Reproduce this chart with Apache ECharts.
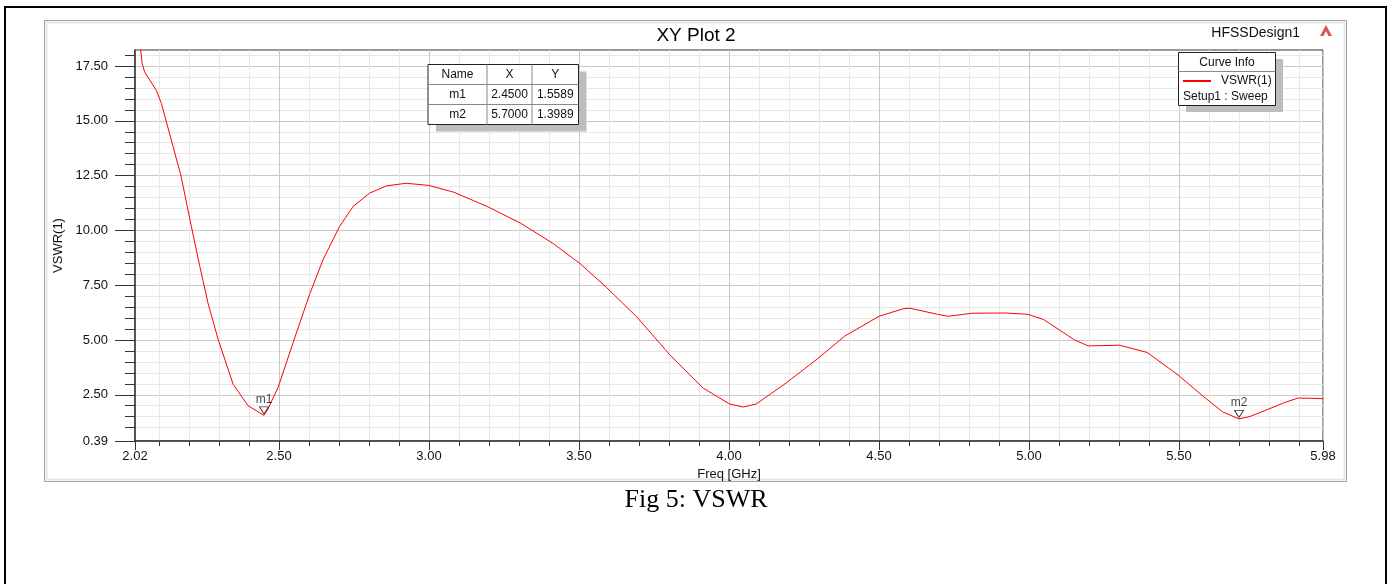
<!DOCTYPE html>
<html>
<head>
<meta charset="utf-8">
<title>XY Plot 2</title>
<script src="https://cdn.jsdelivr.net/npm/echarts@6.0.0/dist/echarts.min.js"></script>
<style>
  html, body { margin: 0; padding: 0; background: #fff; }
  #chart { width: 1392px; height: 584px; }
</style>
</head>
<body>
<div id="chart"></div>
<script>
// VSWR(1) sweep, values
const freqGHz = [2.02, 2.044, 2.052, 2.091, 2.108, 2.147, 2.174, 2.202, 2.236, 2.263, 2.297, 2.347, 2.397, 2.45, 2.463, 2.497,
  2.547, 2.602, 2.647, 2.702, 2.747, 2.802, 2.858, 2.924, 3.0, 3.083, 3.194, 3.305, 3.415, 3.504, 3.592, 3.692, 3.803,
  3.914, 4.002, 4.047, 4.091, 4.19, 4.294, 4.386, 4.5, 4.58, 4.603, 4.695, 4.73, 4.81, 4.922, 4.997, 5.049, 5.152,
  5.197, 5.302, 5.394, 5.497, 5.577, 5.645, 5.70, 5.737, 5.794, 5.851, 5.897, 5.94, 5.98];
const vswr = [20.4, 17.61, 17.23, 16.39, 15.79, 13.82, 12.45, 10.56, 8.36, 6.70, 5.03, 2.98, 2.00, 1.5589, 1.85, 2.83,
  4.88, 7.08, 8.67, 10.18, 11.09, 11.70, 12.03, 12.15, 12.05, 11.74, 11.09, 10.33, 9.39, 8.48, 7.39, 6.06, 4.32,
  2.80, 2.08, 1.94, 2.08, 3.03, 4.13, 5.18, 6.08, 6.42, 6.45, 6.17, 6.08, 6.22, 6.23, 6.17, 5.93, 5.00,
  4.73, 4.76, 4.43, 3.40, 2.47, 1.72, 1.3989, 1.51, 1.82, 2.14, 2.35, 2.34, 2.32];

const markerNames = ["m1", "m2"];
const markerX = [2.45, 5.70];
const markerY = [1.5589, 1.3989];

const xMajorTicks = [2.02, 2.5, 3.0, 3.5, 4.0, 4.5, 5.0, 5.5, 5.98];
const xMinorTicks = [2.1, 2.2, 2.3, 2.4, 2.6, 2.7, 2.8, 2.9, 3.1, 3.2, 3.3, 3.4, 3.6, 3.7, 3.8, 3.9,
  4.1, 4.2, 4.3, 4.4, 4.6, 4.7, 4.8, 4.9, 5.1, 5.2, 5.3, 5.4, 5.6, 5.7, 5.8, 5.9];
const yMajorTicks = [0.39, 2.5, 5.0, 7.5, 10.0, 12.5, 15.0, 17.5];
const yMinorTicks = [1.0, 1.5, 2.0, 3.0, 3.5, 4.0, 4.5, 5.5, 6.0, 6.5, 7.0, 8.0, 8.5, 9.0, 9.5,
  10.5, 11.0, 11.5, 12.0, 13.0, 13.5, 14.0, 14.5, 15.5, 16.0, 16.5, 17.0, 18.0];

const FONT = "Liberation Sans, Arial, sans-serif";
const TOP = 100; // boxes drawn over the grid

const chart = echarts.init(document.getElementById("chart"));

// marker table (Name / X / Y)
const colX = [428, 487, 532, 578.5];
const rowY = [64.5, 84.5, 104.5, 124.5];
const tableRows = [["Name", "X", "Y"]].concat(
  markerNames.map((n, i) => [n, markerX[i].toFixed(4), markerY[i].toFixed(4)])
);
const tableEls = [
  { type: "rect", z: TOP, shape: { x: colX[0] + 8, y: rowY[0] + 7, width: colX[3] - colX[0], height: rowY[3] - rowY[0] },
    style: { fill: "#bdbdbd" } },
  { type: "rect", z: TOP + 1, shape: { x: colX[0], y: rowY[0], width: colX[3] - colX[0], height: rowY[3] - rowY[0] },
    style: { fill: "#fff", stroke: "#222", lineWidth: 1 } }
];
[1, 2].forEach(c => tableEls.push({ type: "line", z: TOP + 2,
  shape: { x1: colX[c], y1: rowY[0], x2: colX[c], y2: rowY[3] }, style: { stroke: "#888", lineWidth: 1 } }));
[1, 2].forEach(r => tableEls.push({ type: "line", z: TOP + 2,
  shape: { x1: colX[0], y1: rowY[r], x2: colX[3], y2: rowY[r] }, style: { stroke: "#888", lineWidth: 1 } }));
tableRows.forEach((row, r) => row.forEach((t, c) => tableEls.push({ type: "text", z: TOP + 3,
  style: { text: t, x: (colX[c] + colX[c + 1]) / 2, y: (rowY[r] + rowY[r + 1]) / 2, align: "center",
    verticalAlign: "middle", font: "12px " + FONT, fill: "#111" } })));

const option = {
  animation: false,
  backgroundColor: "#fff",
  title: {
    text: "XY Plot 2", left: "center", top: 21,
    textStyle: { fontFamily: FONT, fontSize: 19, fontWeight: "normal", color: "#000" }
  },
  legend: {
    data: ["VSWR(1)"], left: 1183, top: 75, padding: 0, itemWidth: 28, itemHeight: 2, icon: "rect", z: TOP + 10,
    textStyle: { fontFamily: FONT, fontSize: 12, color: "#111", padding: [0, 0, 0, 5] }
  },
  grid: { left: 135, top: 50, width: 1188, height: 391, show: true, borderColor: "#333", borderWidth: 1,
    backgroundColor: "#fff" },
  xAxis: [
    { type: "value", min: 2.02, max: 5.98, position: "bottom",
      name: "Freq [GHz]", nameLocation: "middle", nameGap: 26,
      nameTextStyle: { fontFamily: FONT, fontSize: 13, color: "#111" },
      axisLine: { lineStyle: { color: "#333", width: 1.5 } },
      axisTick: { customValues: xMajorTicks, length: 9, lineStyle: { color: "#333" } },
      axisLabel: { customValues: xMajorTicks, formatter: v => v.toFixed(2), margin: 9,
        fontFamily: FONT, fontSize: 13, color: "#111" },
      splitLine: { show: true, lineStyle: { color: "#c8c8c8", width: 1 } } },
    { type: "value", min: 2.02, max: 5.98, position: "bottom",
      axisLine: { show: false },
      axisTick: { customValues: xMinorTicks, length: 5, lineStyle: { color: "#333" } },
      axisLabel: { show: false },
      splitLine: { show: true, lineStyle: { color: "#e8e8e8", width: 1 } } }
  ],
  yAxis: [
    { type: "value", min: 0.39, max: 18.23, position: "left",
      name: "VSWR(1)", nameLocation: "middle", nameGap: 66, nameRotate: 90,
      nameTextStyle: { fontFamily: FONT, fontSize: 13, color: "#111" },
      axisLine: { show: true, lineStyle: { color: "#333", width: 1.5 } },
      axisTick: { show: true, customValues: yMajorTicks, length: 20, lineStyle: { color: "#333" } },
      axisLabel: { customValues: yMajorTicks, formatter: v => v.toFixed(2), margin: 27,
        fontFamily: FONT, fontSize: 13, color: "#111" },
      splitLine: { show: true, lineStyle: { color: "#c8c8c8", width: 1 } } },
    { type: "value", min: 0.39, max: 18.23, position: "left",
      axisLine: { show: false },
      axisTick: { show: true, customValues: yMinorTicks, length: 10, lineStyle: { color: "#333" } },
      axisLabel: { show: false },
      splitLine: { show: true, lineStyle: { color: "#e8e8e8", width: 1 } } }
  ],
  series: [
    { name: "VSWR(1)", type: "line", xAxisIndex: 0, yAxisIndex: 0,
      data: freqGHz.map((f, i) => [f, vswr[i]]),
      showSymbol: false, clip: true, z: 3,
      lineStyle: { color: "#ff0000", width: 1 }, itemStyle: { color: "#ff0000" } },
    { name: "markers", type: "scatter", xAxisIndex: 0, yAxisIndex: 0,
      data: markerX.map((x, i) => [x, markerY[i]]),
      symbol: "path://M0,0L10,0L5,8Z", symbolSize: [9, 7], symbolOffset: [0, -5], z: 5,
      itemStyle: { color: "#fff", borderColor: "#111", borderWidth: 1 },
      label: { show: true, position: "top", distance: 1, formatter: p => markerNames[p.dataIndex],
        fontFamily: FONT, fontSize: 12, color: "#111" } }
  ],
  graphic: [
    // page frame and plot window
    { type: "rect", z: -10, shape: { x: 5, y: 7, width: 1381, height: 620 }, style: { fill: "none", stroke: "#000", lineWidth: 2 } },
    { type: "rect", z: -9, shape: { x: 44.5, y: 20.5, width: 1302, height: 461 }, style: { fill: "none", stroke: "#a0a0a0", lineWidth: 1 } },
    { type: "rect", z: -9, shape: { x: 46.5, y: 22.5, width: 1298, height: 457 }, style: { fill: "none", stroke: "#e6e6e6", lineWidth: 2 } },
    { type: "text", style: { text: "HFSSDesign1", x: 1300, y: 33, align: "right", verticalAlign: "middle",
      font: "14px " + FONT, fill: "#111" } },
    { type: "polygon", shape: { points: [[1320, 36], [1326, 25], [1332, 36]] }, style: { fill: "#d9534f" } },
    { type: "polygon", shape: { points: [[1323.5, 36], [1326, 31], [1328.5, 36]] }, style: { fill: "#fff" } },
    // curve info box
    { type: "rect", z: TOP, shape: { x: 1186, y: 59, width: 97, height: 53 }, style: { fill: "#bdbdbd" } },
    { type: "rect", z: TOP + 1, shape: { x: 1178.5, y: 52.5, width: 97, height: 53 }, style: { fill: "#fff", stroke: "#222", lineWidth: 1 } },
    { type: "line", z: TOP + 2, shape: { x1: 1178.5, y1: 71.5, x2: 1275.5, y2: 71.5 }, style: { stroke: "#888", lineWidth: 1 } },
    { type: "text", z: TOP + 3, style: { text: "Curve Info", x: 1227, y: 62.5, align: "center", verticalAlign: "middle",
      font: "12px " + FONT, fill: "#111" } },
    { type: "text", z: TOP + 3, style: { text: "Setup1 : Sweep", x: 1183, y: 97, align: "left", verticalAlign: "middle",
      font: "12px " + FONT, fill: "#111" } },
    // figure caption
    { type: "text", style: { text: "Fig 5: VSWR", x: 696, y: 500, align: "center", verticalAlign: "middle",
      font: "26px Liberation Serif, Times New Roman, serif", fill: "#000" } }
  ].concat(tableEls)
};

chart.setOption(option);
</script>
</body>
</html>
